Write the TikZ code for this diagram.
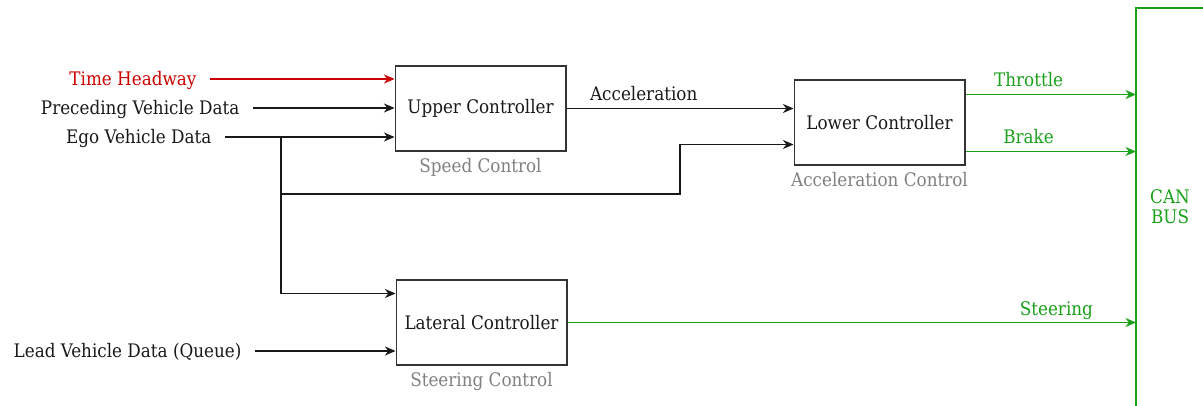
\documentclass[tikz,border=0pt]{standalone}
\usepackage{fontspec}
\setmainfont{DejaVu Serif Condensed}
\usepackage{xcolor}
\usetikzlibrary{arrows.meta,positioning}
\definecolor{busgreen}{RGB}{26,160,26}
\definecolor{hwred}{RGB}{204,0,0}
\definecolor{boxgray}{RGB}{51,51,51}
\definecolor{subgray}{RGB}{128,128,128}

\begin{document}
\begin{tikzpicture}[x=0.75pt, y=-0.75pt,
  ctrl/.style={rectangle, draw=boxgray, line width=1pt, minimum width=128pt, minimum height=63.75pt,
               font=\fontsize{14}{16}\selectfont, text=black!90, inner sep=0pt},
  sub/.style={font=\fontsize{14}{16}\selectfont, text=subgray, inner sep=1pt},
  inp/.style={font=\fontsize{14}{16}\selectfont, text=black!90, anchor=east, inner xsep=10pt},
  lab/.style={font=\fontsize{14}{16}\selectfont, above, inner sep=2pt},
  arr/.style={-{Stealth[length=2.8mm,width=2.4mm]}, line width=1pt, black!90},
  garr/.style={-{Stealth[length=2.8mm,width=2.4mm]}, line width=1pt, busgreen},
  node distance=4pt]

\useasboundingbox (0,0) rectangle (1203,406);

% controllers
\node[ctrl] (up) at (480.5,108.5) {Upper Controller};
\node[ctrl] (lo) at (879.5,122.5) {Lower Controller};
\node[ctrl] (lat) at (481.5,322.5) {Lateral Controller};
\node[sub, below=of up] {Speed Control};
\node[sub, below=of lo] {Acceleration Control};
\node[sub, below=of lat] {Steering Control};

% inputs
\node[inp, text=hwred] (hw) at (210,80) {Time Headway};
\node[inp] (pre) at (253,109) {Preceding Vehicle Data};
\node[inp] (ego) at (225,138) {Ego Vehicle Data};
\node[inp] (lead) at (255,352) {Lead Vehicle Data (Queue)};

\draw[arr, hwred] ([yshift=0.75pt]hw.east) -- ([yshift=0.75pt]hw.east -| up.west);
\draw[arr] ([yshift=0.75pt]pre.east) -- ([yshift=0.75pt]pre.east -| up.west);
\draw[arr] ([yshift=0.75pt]ego.east) -- ([yshift=0.75pt]ego.east -| up.west);
\draw[arr] ([yshift=0.75pt]lead.east) -- ([yshift=0.75pt]lead.east -| lat.west);

% ego branch
\coordinate (br) at (281,137);
\coordinate (j1) at (281,194);
\coordinate (j2) at (680,194);
\draw[arr] (br) |- ([yshift=21.75pt]lat.west);
\draw[arr] (j1) -- (j2) |- ([yshift=-16.5pt]lo.west);
\draw[arr] (up.east) -- node[lab, pos=0.34, yshift=3.5pt] {Acceleration} (up.east -| lo.west);

% CAN bus
\coordinate (bus) at (1136,8);
\draw[busgreen, line width=1pt] (1210,8) -- (bus) -- (1136,420);
\node[font=\fontsize{14}{16}\selectfont, text=busgreen, align=center] (can) at (1170,207) {CAN\\[-1pt]BUS};

\draw[garr] ([yshift=21pt]lo.east) coordinate (t0) -- node[lab, text=busgreen, pos=0.37, yshift=3.5pt] {Throttle} (t0 -| bus);
\draw[garr] ([yshift=-21.75pt]lo.east) coordinate (b0) -- node[lab, text=busgreen, pos=0.37, yshift=3.5pt] {Brake} (b0 -| bus);
\draw[garr] (lat.east) -- node[lab, text=busgreen, pos=0.86] {Steering} (lat.east -| bus);
\end{tikzpicture}
\end{document}
